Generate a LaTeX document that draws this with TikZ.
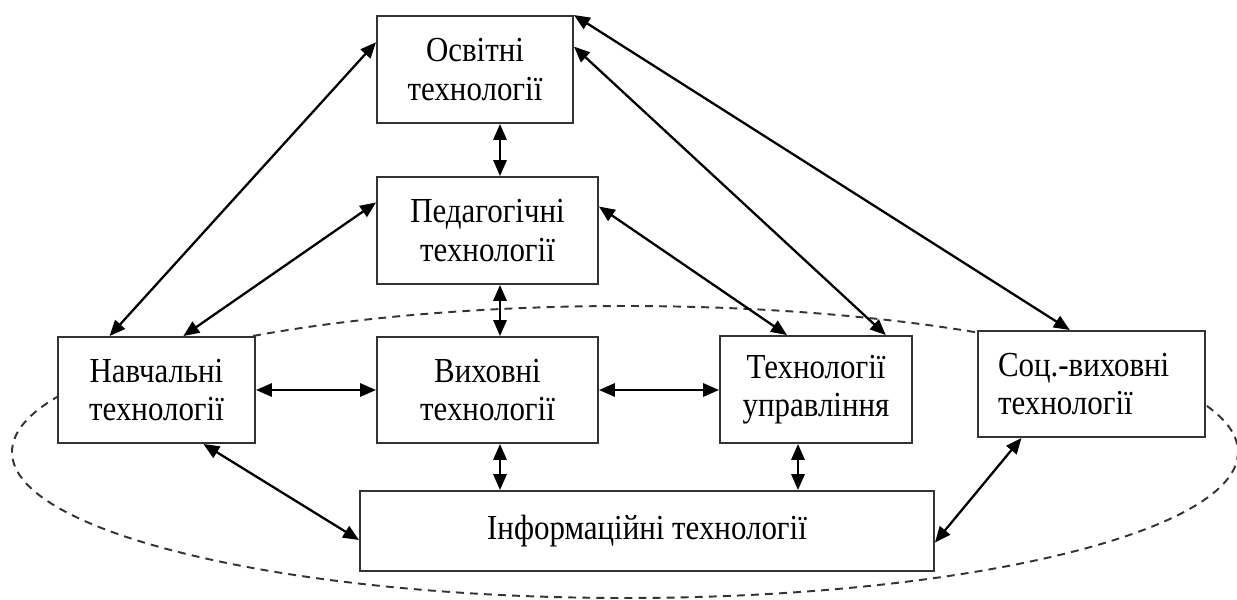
\documentclass[tikz,border=0pt]{standalone}
\usepackage{fontspec}
\setmainfont[FakeStretch=0.88]{Liberation Serif}
\usetikzlibrary{calc,arrows.meta}

\begin{document}
\begin{tikzpicture}[x=0.2mm, y=-0.2mm,
    tech/.style={draw=black!80, line width=1.1pt, fill=white, inner sep=0pt, align=center,
      font=\fontsize{20}{22}\selectfont},
    link/.style={{Triangle[length=9pt,width=7.5pt]}-{Triangle[length=9pt,width=7.5pt]}, line width=1.3pt}]
    \useasboundingbox (0,0) rectangle (1237,600);
    \draw[black!80, line width=1.1pt, dash pattern=on 4.5pt off 3.5pt] (625,452) ellipse [x radius=613, y radius=146];

    \node[tech, minimum width=39.2mm, minimum height=21.4mm] (osv) at (475,69.5) {Освітні\\технології};
    \node[tech, minimum width=44.2mm, minimum height=21.4mm] (ped) at (487.5,230.5) {Педагогічні\\технології};
    \node[tech, minimum width=39.4mm, minimum height=21.2mm] (navch) at (156.5,390) {Навчальні\\технології};
    \node[tech, minimum width=44.2mm, minimum height=21.2mm] (vyh) at (487.5,390) {Виховні\\технології};
    \node[tech, minimum width=38.4mm, minimum height=21.4mm] (upr) at (816,389.5) {Технології\\управління};
    \node[tech, text width=37.4mm, inner xsep=4mm, minimum height=21.2mm, align=left] (soc) at (1091.5,384) {Соц.-виховні\\технології};
    \node[tech, minimum width=114.8mm, minimum height=16mm] (inf) at (647,531) {Інформаційні технології};

    \coordinate (mid) at (500,0);
    \coordinate (ux) at (798,0);

    \draw[link] ($(navch.north west)!0.264!(navch.north east)$) -- ($(osv.north west)!0.25!(osv.south west)$);
    \draw[link] ($(navch.north west)!0.635!(navch.north east)$) -- ($(ped.north west)!0.243!(ped.south west)$);
    \draw[link] (navch.east) -- (vyh.west);
    \draw[link] ($(navch.south west)!0.736!(navch.south east)$) -- ($(inf.north west)!0.61!(inf.south west)$);

    \draw[link] (osv.south -| mid) -- (ped.north -| mid);
    \draw[link] (ped.south -| mid) -- (vyh.north -| mid);
    \draw[link] (vyh.south -| mid) -- (inf.north -| mid);
    \draw[link] (vyh.east) -- (vyh.east -| upr.west);
    \draw[link] (upr.south -| ux) -- (inf.north -| ux);

    \draw[link] ($(ped.north east)!0.28!(ped.south east)$) -- ($(upr.north west)!0.35!(upr.north east)$);
    \draw[link] ($(osv.north east)!0.29!(osv.south east)$) -- ($(upr.north west)!0.86!(upr.north east)$);
    \draw[link] (osv.north east) -- ($(soc.north west)!0.405!(soc.north east)$);
    \draw[link] ($(soc.south west)!0.194!(soc.south east)$) -- ($(inf.north east)!0.64!(inf.south east)$);
\end{tikzpicture}
\end{document}
